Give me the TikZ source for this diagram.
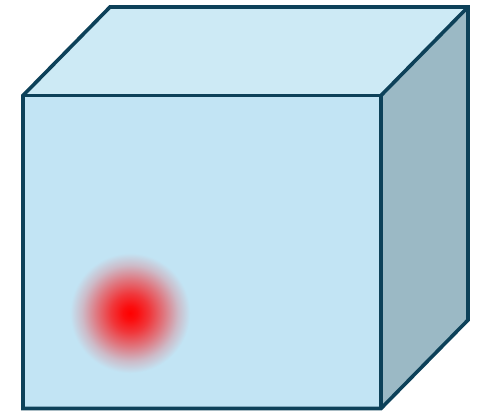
\documentclass[tikz,border=0pt]{standalone}
\definecolor{edgecol}{HTML}{0D4159}
\definecolor{frontcol}{HTML}{C2E4F4}
\definecolor{topcol}{HTML}{CDEAF5}
\definecolor{sidecol}{HTML}{9BB9C5}
\pgfdeclareradialshading{reddot}{\pgfpoint{0bp}{0bp}}{%
  color(0bp)=(red);
  color(3bp)=(red!94!frontcol);
  color(8bp)=(red!76!frontcol);
  color(14bp)=(red!48!frontcol);
  color(20bp)=(red!18!frontcol);
  color(25bp)=(frontcol);
  color(50bp)=(frontcol)}
\tikzset{
  edge/.style={draw=edgecol, line width=3.6pt, line join=miter},
}
\begin{document}
\begin{tikzpicture}[x=1pt,y=-1pt]
\useasboundingbox (0,0) rectangle (487,411);
% vertices
\coordinate (FTL) at (23,95.5);
\coordinate (FTR) at (381,95.5);
\coordinate (FBL) at (23,408.5);
\coordinate (FBR) at (381,408.5);
\coordinate (BTL) at (110,7);
\coordinate (BTR) at (468,7);
\coordinate (BBR) at (468,320);
\coordinate (dot) at (130,313);
% fills
\fill[frontcol] (FTL) -- (FTR) -- (FBR) -- (FBL) -- cycle;
\fill[topcol] (FTL) -- (BTL) -- (BTR) -- (FTR) -- cycle;
\fill[sidecol] (FTR) -- (BTR) -- (BBR) -- (FBR) -- cycle;
% red glow
\shade[shading=reddot] (dot) circle[radius=60];
% edges
\draw[edge] (FTL) -- (BTL) -- (BTR) -- (BBR) -- (FBR) -- (FBL) -- cycle;
\draw[edge] (FTL) -- (FTR) -- (FBR);
\draw[edge] (FTR) -- (BTR);
\end{tikzpicture}
\end{document}
